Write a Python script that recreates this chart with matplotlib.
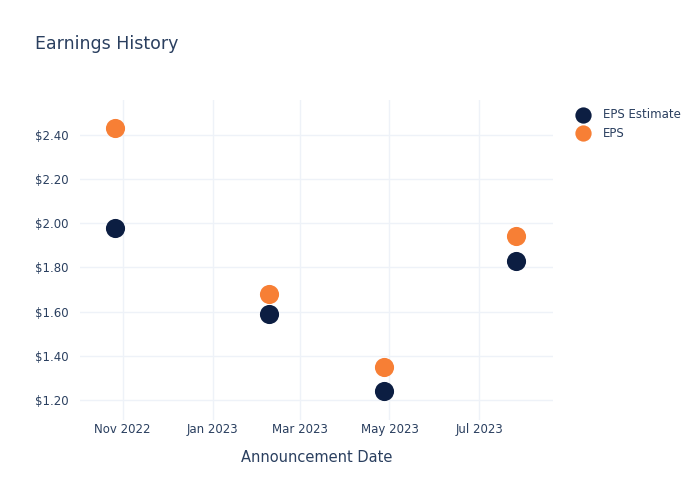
import numpy as np
import matplotlib
matplotlib.use("Agg")
import matplotlib.pyplot as plt
import matplotlib.dates as mdates

dates = np.array(["2022-10-27", "2023-02-08", "2023-04-27", "2023-07-26"], dtype="datetime64[D]")
eps_estimate = [1.98, 1.59, 1.24, 1.83]
eps_actual = [2.43, 1.68, 1.35, 1.94]

txt = "#2a3f5f"
grid = "#eef2f8"

fig = plt.figure(figsize=(7, 5), dpi=100)
ax = fig.add_axes([0.1143, 0.16, 0.6757, 0.64])

ax.scatter(dates, eps_estimate, s=190, color="#0c1e42", label="EPS Estimate", zorder=3, linewidths=0)
ax.scatter(dates, eps_actual, s=190, color="#f77f35", label="EPS", zorder=3, linewidths=0)

ax.set_xlim(np.datetime64("2022-10-03"), np.datetime64("2023-08-20"))
ax.set_ylim(1.109, 2.558)
ax.set_yticks([1.2, 1.4, 1.6, 1.8, 2.0, 2.2, 2.4])
ax.yaxis.set_major_formatter(plt.FuncFormatter(lambda v, p: "${:.2f}".format(v)))
ax.xaxis.set_major_locator(mdates.MonthLocator(bymonth=[1, 3, 5, 7, 11]))
ax.xaxis.set_major_formatter(mdates.DateFormatter("%b %Y"))

for s in ax.spines.values():
    s.set_visible(False)
ax.grid(True, color=grid, linewidth=1)
ax.set_axisbelow(True)
ax.tick_params(axis="y", length=0, labelsize=8.5, labelcolor=txt, pad=8)
ax.tick_params(axis="x", length=0, labelsize=8.5, labelcolor=txt, pad=2)

ax.set_xlabel("Announcement Date", fontsize=10.5, color=txt, labelpad=10)
fig.text(0.05, 0.912, "Earnings History", fontsize=12.5, color=txt, va="center")

leg = ax.legend(loc="upper left", bbox_to_anchor=(1.02, 1.0), frameon=False,
                fontsize=8.5, labelcolor=txt, handletextpad=0.7, borderaxespad=0.3,
                labelspacing=0.45, markerscale=0.85)

fig.savefig("out.png", dpi=100)
